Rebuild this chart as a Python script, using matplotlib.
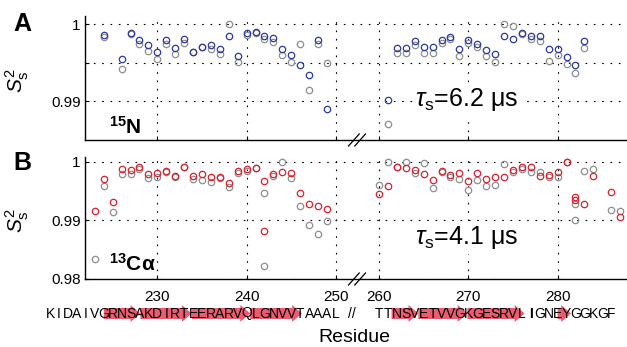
import numpy as np
import matplotlib
matplotlib.use('Agg')
import matplotlib.pyplot as plt
from matplotlib import transforms
from matplotlib.patches import Polygon

plt.rcParams['font.family'] = 'Liberation Sans'
plt.rcParams['mathtext.fontset'] = 'custom'
plt.rcParams['mathtext.rm'] = 'Liberation Sans'
plt.rcParams['mathtext.it'] = 'Liberation Sans:italic'
plt.rcParams['mathtext.bf'] = 'Liberation Sans:bold'

# ---- 15N order parameters (panel A)
resA = [224, 226, 227, 228, 229, 230, 231, 232, 233, 234, 235, 236, 237,
        238, 239, 240, 241, 242, 243, 244, 245, 246, 247, 248, 249,
        261, 262, 263, 264, 265, 266, 267, 268, 269, 270, 271, 272, 273,
        274, 275, 276, 277, 278, 279, 280, 281, 282, 283]
S2_N = [0.99865, 0.99543, 0.99887, 0.99796, 0.99726, 0.99639, 0.99796, 0.99687, 0.99809,
        0.99635, 0.99709, 0.99730, 0.99674,
        0.99843, 0.99587, 0.99887, 0.99904, 0.99852, 0.99826, 0.99674, 0.99604, 0.99474,
        0.99339, 0.99800, 0.98891,
        0.99009, 0.99696, 0.99696, 0.99783, 0.99709, 0.99709, 0.99796, 0.99839, 0.99674,
        0.99796, 0.99739, 0.99665, 0.99609,
        0.99843, 0.99809, 0.99891, 0.99843, 0.99843, 0.99683, 0.99674, 0.99574, 0.99474, 0.99783]
S2_N_ref = [0.99830, 0.99422, 0.99874, 0.99748, 0.99648, 0.99543, 0.99743, 0.99617, 0.99757,
            0.99635, 0.99709, 0.99674, 0.99609,
            1.00000, 0.99504, 0.99861, 0.99891, 0.99809, 0.99774, 0.99604, 0.99504, 0.99748,
            0.99139, 0.99748, 0.99491,
            0.98704, 0.99630, 0.99630, 0.99735, 0.99630, 0.99630, 0.99761, 0.99813, 0.99587,
            0.99752, 0.99704, 0.99587, 0.99504,
            1.00000, 0.99983, 0.99874, 0.99813, 0.99783, 0.99526, 0.99596, 0.99483, 0.99365, 0.99696]

# ---- 13C-alpha order parameters (panel B)
resB = [223, 224, 225, 226, 227, 228, 229, 230, 231, 232, 233, 234, 235, 236, 237,
        238, 239, 240, 241, 242, 242, 243, 244, 245, 246, 247, 248, 249,
        260, 261, 262, 263, 264, 265, 266, 267, 268, 269, 270, 271, 272, 273,
        274, 275, 276, 277, 278, 279, 280, 281, 282, 282, 283, 284, 286, 287]
S2_C = [0.99159, 0.99716, 0.99324, 0.99881, 0.99858, 0.99909, 0.99801, 0.99818, 0.99852,
        0.99756, 0.99909, 0.99761, 0.99801, 0.99750, 0.99744,
        0.99636, 0.99852, 0.99881, 0.99892, 0.99676, 0.98824, 0.99801, 0.99824, 0.99813,
        0.99477, 0.99284, 0.99245, 0.99193,
        0.99460, 0.99591, 0.99909, 0.99903, 0.99864, 0.99796, 0.99688, 0.99852, 0.99778,
        0.99807, 0.99671, 0.99807, 0.99705, 0.99739,
        0.99750, 0.99864, 0.99909, 0.99909, 0.99761, 0.99784, 0.99824, 1.00000, 0.99409,
        0.99352, 0.99284, 0.99767, 0.99483, 0.99057]
S2_C_ref = [0.98347, 0.99591, 0.99142, 0.99790, 0.99790, 0.99881, 0.99722, 0.99744, 0.99830,
            0.99744, 0.99909, 0.99716, 0.99693, 0.99665, 0.99727,
            0.99580, 0.99818, 0.99852, 0.99892, 0.99466, 0.98216, 0.99761, 1.00000, 0.99733,
            0.99256, 0.98926, 0.98773, 0.98995,
            0.99608, 1.00000, 0.99909, 1.00000, 0.99807, 0.99977, 0.99557, 0.99835, 0.99750,
            0.99716, 0.99523, 0.99693, 0.99591, 0.99614,
            0.99966, 0.99830, 0.99886, 0.99824, 0.99835, 0.99750, 0.99744, 1.00000, 0.99279,
            0.99000, 0.99847, 0.99886, 0.99171, 0.99154]

seq_left = "KIDAIVGRNSAKDIRTEERARVQLGNVVTAAAL"    # residues 218-250
seq_right = "TTNSVETVVGKGESRVLIGNEYGGKGF"        # residues 260-286
strands = [(224.0, 228.1), (228.1, 233.85), (233.85, 240.4), (240.4, 246.2),
           (261.4, 264.4), (264.4, 269.9), (269.9, 276.3), (280.0, 281.5)]

xticks_res = [230, 240, 250, 260, 270, 280]

GAP = 5.17      # residues 251-259 are cut out of the axis
XBREAK = 252.36


def xmap(r):
    r = np.asarray(r, float)
    return np.where(r >= 255, r - GAP, r)


blue = '#2c3a9c'
red = '#d8212f'
grey = '#8e8e8e'

fig = plt.figure(figsize=(6.27, 3.47), dpi=100)
axA = fig.add_axes([85/627, 1-140/347, 542/627, 124/347])
axB = fig.add_axes([85/627, 1-279/347, 542/627, 122/347])


def setup(ax, ylim, yticks, ylabels):
    ax.set_xlim(221.9, 282.6)
    ax.set_ylim(*ylim)
    ax.set_yticks(yticks)
    ax.set_yticklabels(ylabels)
    ax.set_xticks(xmap(xticks_res))
    for s in ['top', 'right']:
        ax.spines[s].set_visible(False)
    ax.spines['left'].set_linewidth(1.0)
    ax.spines['bottom'].set_linewidth(1.0)
    ax.tick_params(direction='in', length=3, width=0.8, labelsize=11, pad=3)
    ax.grid(True, color='k', lw=0.8, linestyle=(0, (1.5, 6)))
    ax.set_axisbelow(True)
    ax.set_ylabel(r'$S_{\rm s}^2$', fontsize=15)
    ax.yaxis.set_label_coords(-0.1, 0.48)
    # axis break mark
    tr = transforms.blended_transform_factory(ax.transData, ax.transAxes)
    h = 6.0 / (ax.get_position().height * 347)
    for dx in (-0.35, 0.35):
        ax.plot([XBREAK + dx - 0.6, XBREAK + dx + 0.6], [-h, h], color='k', lw=0.9,
                transform=tr, clip_on=False, zorder=5)


setup(axA, (0.98492, 1.0011), [0.99, 0.995, 1.0], ['0.99', '', '1'])
setup(axB, (0.98, 1.00085), [0.98, 0.99, 1.0], ['0.98', '0.99', '1'])
axA.set_xticklabels([])
axB.set_xticklabels([str(t) for t in xticks_res])
axB.tick_params(axis='x', pad=8)

mk = dict(ls='none', marker='o', ms=4.6, mew=0.9, mfc='none', clip_on=False)
axA.plot(xmap(resA), S2_N_ref, mec=grey, **mk)
axA.plot(xmap(resA), S2_N, mec=blue, **mk)
axB.plot(xmap(resB), S2_C_ref, mec=grey, **mk)
axB.plot(xmap(resB), S2_C, mec=red, **mk)

box = dict(facecolor='white', edgecolor='none', pad=2)
axA.text(258.9, 0.99014, r'$\tau_{\rm s}$=6.2 μs', fontsize=18, va='center', bbox=box)
axB.text(258.9, 0.98705, r'$\tau_{\rm s}$=4.1 μs', fontsize=18, va='center', bbox=box)

fig.text(13/627, 1-24/347, 'A', fontsize=18, fontweight='bold', va='center')
fig.text(13/627, 1-163/347, 'B', fontsize=18, fontweight='bold', va='center')
fig.text(109/627, 1-127/347, r'$^{\mathbf{15}}$N', fontsize=15, fontweight='bold', va='center')
fig.text(109/627, 1-264/347, r'$^{\mathbf{13}}$Cα', fontsize=15, fontweight='bold', va='center')

# sequence row with strand arrows
st = transforms.blended_transform_factory(axB.transData, fig.transFigure)
yc = 1 - 313.5/347
bh = 5.5/347
hh = 8.5/347
hl = 1.1
for x0, x1 in strands:
    a, b = float(xmap(x0)), float(xmap(x1))
    pts = [(a, yc-bh), (b-hl, yc-bh), (b-hl, yc-hh), (b, yc), (b-hl, yc+hh),
           (b-hl, yc+bh), (a, yc+bh)]
    axB.add_patch(Polygon(pts, closed=True, facecolor='#ea4a60', edgecolor='none',
                          alpha=0.9, transform=st, clip_on=False, zorder=1))

for i, aa in enumerate(seq_left):
    axB.text(218 + i, yc, aa, transform=st, ha='center', va='center', fontsize=10,
             zorder=3, clip_on=False)
for i, aa in enumerate(seq_right):
    r = 260 + i
    axB.text(float(xmap(r)), yc, aa, transform=st, ha='center', va='center',
             fontsize=10, zorder=3, clip_on=False,
             fontweight='bold' if aa == 'I' else 'normal')
axB.text(251.8, yc, '//', transform=st, ha='center', va='center', fontsize=10)

fig.text(354/627, 1-338/347, 'Residue', fontsize=14, ha='center', va='center')

fig.savefig('out.png', dpi=100)
